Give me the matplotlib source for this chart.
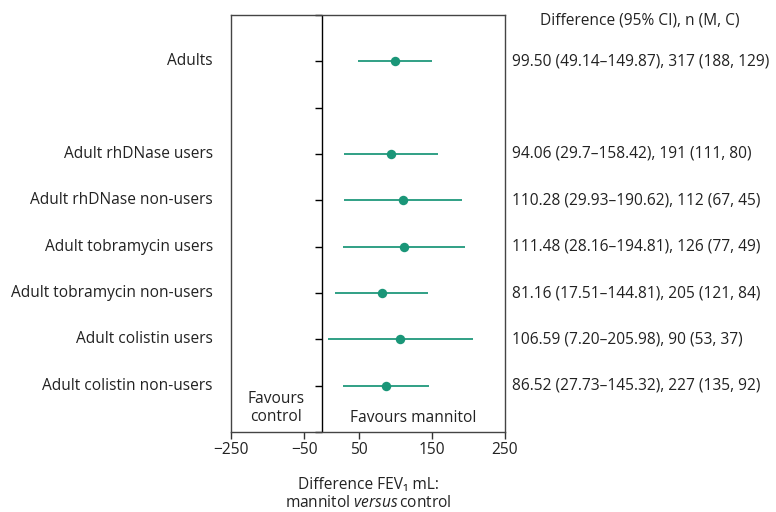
import numpy as np
import matplotlib
matplotlib.use('Agg')
import matplotlib.pyplot as plt

plt.rcParams['font.family'] = ['Open Sans', 'DejaVu Sans']
plt.rcParams['mathtext.fontset'] = 'custom'
plt.rcParams['mathtext.it'] = 'Open Sans:italic'
plt.rcParams['mathtext.rm'] = 'Open Sans'

# data
groups = ['Adults',
          'Adult rhDNase users', 'Adult rhDNase non-users',
          'Adult tobramycin users', 'Adult tobramycin non-users',
          'Adult colistin users', 'Adult colistin non-users']
diff = [99.50, 94.06, 110.28, 111.48, 81.16, 106.59, 86.52]
ci_low = [49.14, 29.7, 29.93, 28.16, 17.51, 7.20, 27.73]
ci_high = [149.87, 158.42, 190.62, 194.81, 144.81, 205.98, 145.32]
n_total = [317, 191, 112, 126, 205, 90, 227]
n_mannitol = [188, 111, 67, 77, 121, 53, 135]
n_control = [129, 80, 45, 49, 84, 37, 92]
diff_text = ['99.50', '94.06', '110.28', '111.48', '81.16', '106.59', '86.52']
lo_text = ['49.14', '29.7', '29.93', '28.16', '17.51', '7.20', '27.73']
hi_text = ['149.87', '158.42', '190.62', '194.81', '144.81', '205.98', '145.32']

# axis ticks as printed in the figure
tick_pos = [-125, -25, 50, 150, 250]
tick_labels = ['\u2212250', '\u221250', '50', '150', '250']

green = '#1a9678'
txt = '#222222'
fs = 11.2

fig = plt.figure(figsize=(7.76, 5.12), dpi=100)
ax = fig.add_axes([231/776, 1-432/512, 274/776, 417/512])

# row positions: Adults first, one blank row, then subgroups
ypos = np.array([1] + [3 + i for i in range(len(groups) - 1)])

ax.hlines(ypos, ci_low, ci_high, color=green, lw=1.4, alpha=0.9)
ax.plot(diff, ypos, 'o', color=green, ms=6.8, mec='none')

# zero line with its ticks
ax.axvline(0, color='k', lw=1.0)
ax.plot(np.zeros(10), np.arange(10), linestyle='none', marker=0,
        ms=5, mew=1.0, color='k', clip_on=False)

ax.set_xlim(-125, 250)
ax.set_ylim(9, 0)
ax.set_yticks([])
ax.set_xticks(tick_pos, tick_labels)
ax.tick_params(axis='x', length=5, width=1.0, labelsize=fs, pad=2,
               color='#333333', labelcolor=txt)
for s in ax.spines.values():
    s.set_color('#444444')
    s.set_linewidth(1.0)

ytr = ax.get_yaxis_transform()
for i, g in enumerate(groups):
    ax.text(-0.066, ypos[i], g, transform=ytr, ha='right', va='center',
            fontsize=fs, color=txt)
    s = '%s (%s\u2013%s), %d (%d, %d)' % (diff_text[i], lo_text[i], hi_text[i],
                                        n_total[i], n_mannitol[i], n_control[i])
    ax.text(1.026, ypos[i], s, transform=ytr, ha='left', va='center',
            fontsize=fs, color=txt)

ax.text(1.493, 0.11, 'Difference (95% CI), n (M, C)', transform=ytr,
        ha='center', va='center', fontsize=fs, color=txt)

ax.text(0.164, 8.48, 'Favours\ncontrol', transform=ytr, ha='center',
        va='center', fontsize=fs, color=txt, linespacing=1.15)
ax.text(0.664, 8.70, 'Favours mannitol', transform=ytr, ha='center',
        va='center', fontsize=fs, color=txt)

ax.set_xlabel('Difference FEV\u2081 mL:\nmannitol $\\it{versus}$\u2009control',
              fontsize=fs, color=txt, labelpad=14, linespacing=1.15)

fig.savefig('out.png', dpi=100)
